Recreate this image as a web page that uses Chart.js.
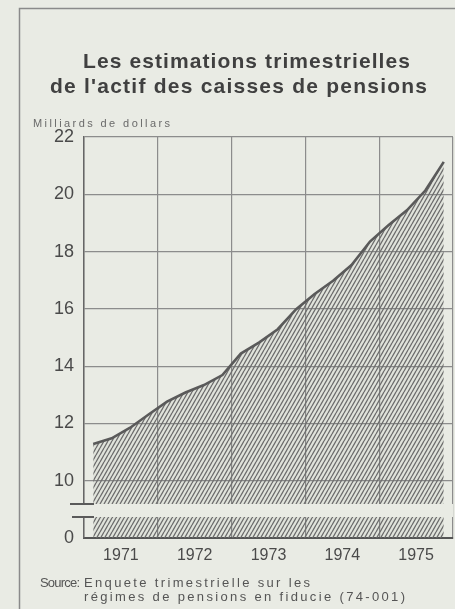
<!DOCTYPE html>
<html>
<head>
<meta charset="utf-8">
<script src="https://cdn.jsdelivr.net/npm/chart.js@4.4.1/dist/chart.umd.min.js"></script>
<style>
  html, body { margin: 0; padding: 0; background: #e9ebe4; }
  canvas { display: block; }
</style>
</head>
<body>
<canvas id="graphique" width="455" height="609"></canvas>
<script>
// annees affichees sous l'axe (une par groupe de 4 trimestres)
var annees = ['1971', '1972', '1973', '1974', '1975'];
// actif trimestriel, milliards de dollars
var valeurs = [11.28, 11.48, 11.85, 12.31, 12.76, 13.08, 13.34, 13.69,
               14.44, 14.83, 15.29, 15.99, 16.52, 16.98, 17.53, 18.35,
               18.92, 19.44, 20.13, 21.13];
// graduations de l'axe vertical (le bas de l'axe est coupe, affiche 0)
var graduationsY = [8, 10, 12, 14, 16, 18, 20, 22];
var etiquettesY = ['0', '10', '12', '14', '16', '18', '20', '22'];

var titre = ['Les estimations trimestrielles', "de l'actif des caisses de pensions"];
var unite = 'Milliards de dollars';
var source = ['Source:', 'Enquete trimestrielle sur les', 'régimes de pensions en fiducie (74-001)'];

var fond = '#e9ebe4';
var gris = '#5a5a5a';

// motif de hachures
function creerHachures() {
    var c = document.createElement('canvas');
    c.width = 4;
    c.height = 7;
    var g = c.getContext('2d');
    g.fillStyle = 'rgba(60,70,60,0.05)';
    g.fillRect(0, 0, 4, 7);
    g.strokeStyle = '#6c6c6c';
    g.lineWidth = 1.3;
    g.beginPath();
    g.moveTo(-4, 7); g.lineTo(0, 0);
    g.moveTo(0, 7); g.lineTo(4, 0);
    g.moveTo(4, 7); g.lineTo(8, 0);
    g.stroke();
    return g.createPattern(c, 'repeat');
}

// ecrit un texte etire sur une largeur donnee
function texteAjuste(ctx, txt, x, y, largeur) {
    ctx.letterSpacing = '0px';
    var w = ctx.measureText(txt).width;
    var esp = (largeur - w) / (txt.length - 1);
    ctx.letterSpacing = esp + 'px';
    ctx.fillText(txt, x, y);
    ctx.letterSpacing = '0px';
}

var points = [];
for (var i = 0; i < valeurs.length; i++) {
    points.push({ x: i + 0.5, y: valeurs[i] });
}

var decor = {
    id: 'decor',
    beforeDraw: function (chart) {
        var ctx = chart.ctx;
        ctx.save();
        ctx.fillStyle = fond;
        ctx.fillRect(0, 0, chart.width, chart.height);
        // cadre
        ctx.strokeStyle = '#8a8a8a';
        ctx.lineWidth = 1.5;
        ctx.beginPath();
        ctx.moveTo(19.5, chart.height);
        ctx.lineTo(19.5, 8.5);
        ctx.lineTo(chart.width, 8.5);
        ctx.stroke();
        // titre
        ctx.fillStyle = '#404040';
        ctx.textBaseline = 'alphabetic';
        ctx.textAlign = 'left';
        ctx.font = 'bold 21px "Liberation Sans", Arial, sans-serif';
        texteAjuste(ctx, titre[0], 83, 68, 327);
        texteAjuste(ctx, titre[1], 50, 93, 377);
        // unite
        ctx.fillStyle = '#6a6a6a';
        ctx.font = '11px "Liberation Sans", Arial, sans-serif';
        texteAjuste(ctx, unite, 33, 127, 137);
        // source
        ctx.fillStyle = '#555';
        ctx.font = '13px "Liberation Sans", Arial, sans-serif';
        texteAjuste(ctx, source[0], 40, 587, 40);
        texteAjuste(ctx, source[1], 84, 587, 226);
        texteAjuste(ctx, source[2], 84, 601, 321);
        ctx.restore();
    },
    afterDatasetsDraw: function (chart) {
        var ctx = chart.ctx;
        var y = chart.scales.y;
        var zone = chart.chartArea;
        var haut = Math.round(y.getPixelForValue(9.2));
        var bas = Math.round(y.getPixelForValue(8.75));
        ctx.save();
        // coupure de l'axe
        ctx.fillStyle = fond;
        ctx.fillRect(zone.left - 4, haut, zone.right - zone.left + 4, bas - haut);
        ctx.strokeStyle = gris;
        ctx.lineWidth = 2;
        ctx.beginPath();
        ctx.moveTo(70, haut);
        ctx.lineTo(94, haut);
        ctx.moveTo(72, bas);
        ctx.lineTo(94, bas);
        ctx.stroke();
        ctx.restore();
    }
};

var graphique = new Chart(document.getElementById('graphique'), {
    type: 'line',
    data: {
        datasets: [{
            data: points,
            borderColor: gris,
            borderWidth: 2.6,
            tension: 0,
            pointRadius: 0,
            fill: 'start',
            backgroundColor: creerHachures()
        }]
    },
    options: {
        responsive: false,
        animation: false,
        devicePixelRatio: 1,
        layout: { padding: { top: 137, left: 0, right: 2, bottom: 40 } },
        plugins: {
            legend: { display: false },
            tooltip: { enabled: false },
            title: { display: false }
        },
        scales: {
            x: {
                type: 'linear',
                min: 0,
                max: 20,
                afterBuildTicks: function (scale) {
                    var t = [];
                    for (var k = 0; k <= 20; k += 2) t.push({ value: k });
                    scale.ticks = t;
                },
                afterFit: function (scale) {
                    scale.height = 31;
                    scale.paddingLeft = 0;
                    scale.paddingRight = 0;
                },
                ticks: {
                    autoSkip: false,
                    maxRotation: 0,
                    padding: 8,
                    color: '#4a4a4a',
                    font: { family: '"Liberation Sans", Arial, sans-serif', size: 16 },
                    callback: function (v) {
                        return (v % 4 === 2) ? annees[(v - 2) / 4] : '';
                    }
                },
                grid: {
                    drawTicks: false,
                    color: function (c) {
                        return (c.tick && c.tick.value % 4 === 0) ? '#8c8c8c' : 'rgba(0,0,0,0)';
                    },
                    lineWidth: 1.2
                },
                border: { display: true, color: '#555', width: 2 }
            },
            y: {
                min: 8,
                max: 22,
                afterBuildTicks: function (scale) {
                    scale.ticks = graduationsY.map(function (v) { return { value: v }; });
                },
                afterFit: function (scale) { scale.width = 84; },
                ticks: {
                    padding: 10,
                    color: '#4a4a4a',
                    font: { family: '"Liberation Sans", Arial, sans-serif', size: 18 },
                    callback: function (v) {
                        return etiquettesY[graduationsY.indexOf(v)];
                    }
                },
                grid: {
                    drawTicks: false,
                    color: function (c) {
                        return (c.tick && c.tick.value === 8) ? 'rgba(0,0,0,0)' : '#8c8c8c';
                    },
                    lineWidth: 1.2
                },
                border: { display: true, color: '#666', width: 1.5 }
            }
        }
    },
    plugins: [decor]
});
</script>
</body>
</html>
